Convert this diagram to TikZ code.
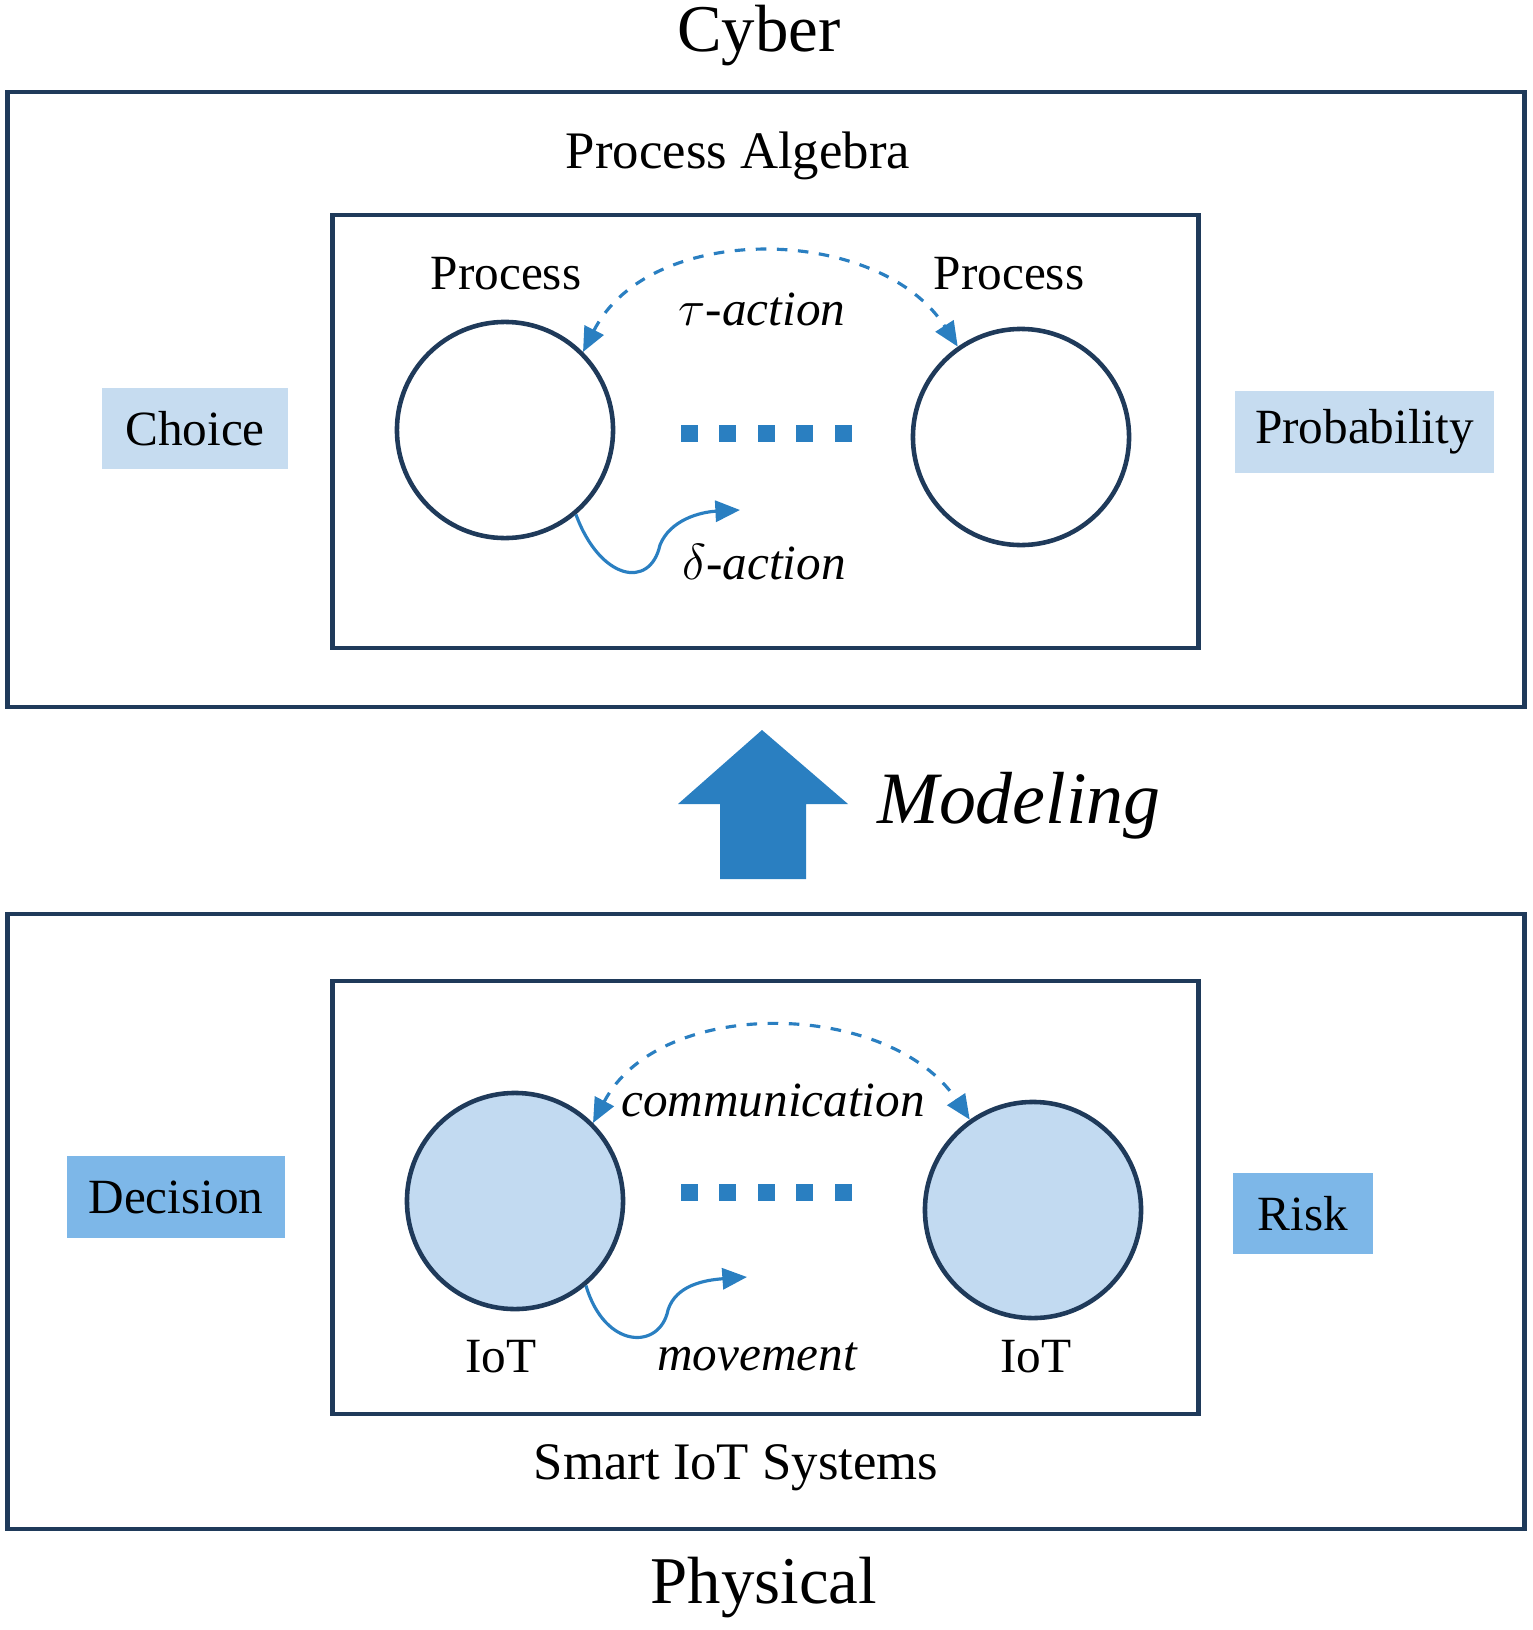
\documentclass[tikz,border=0pt]{standalone}
\usepackage{fontspec}
\setmainfont{Liberation Serif}
\usetikzlibrary{arrows.meta}
\definecolor{navy}{HTML}{1F3A5A}
\definecolor{lb}{HTML}{C6DCF0}
\definecolor{mb}{HTML}{7DB7E8}
\definecolor{ab}{HTML}{2A7FC1}
\definecolor{cb}{HTML}{C2DAF1}
\begin{document}
\begin{tikzpicture}[x=0.01cm,y=-0.01cm,
 box/.style={draw=navy,line width=1.3pt},
 circ/.style={circle,draw=navy,line width=1.3pt,minimum size=2.16cm,inner sep=0},
 tag/.style={font=\fontsize{14}{16}\selectfont,inner sep=0},
 dsh/.style={dashed,ab,line width=0.9pt},
 crv/.style={ab,line width=0.9pt,-{Triangle[length=7pt,width=6pt]}},
 sq/.style={fill=ab,minimum size=0.17cm,inner sep=0}]
\useasboundingbox (0,0) rectangle (1532,1630);
\node[font=\fontsize{19}{22}\selectfont] (cyber) at (759,36) {Cyber};
\node[box,minimum width=15.16cm,minimum height=6.15cm,inner sep=0] (outA) at (766,399.5) {};
\node[font=\fontsize{15}{18}\selectfont] (pa) at (738,156) {Process Algebra};
\node[box,minimum width=8.65cm,minimum height=4.33cm,inner sep=0] (inA) at (765.5,431.5) {};
\node[tag] (p1) at (506,274) {Process};
\node[tag] (p2) at (1009,274) {Process};
\node[circ] (c1) at (505,430) {};
\node[circ] (c2) at (1021,437) {};
\foreach \i in {0,1,2,3,4} \node[sq] (a\i) at (689+38.5*\i,433) {};
\node[tag,font=\fontsize{14}{16}\selectfont\itshape] (tau) at (762,309) {$\tau$-action};
\draw[dsh,{Triangle[length=7pt,width=6pt]}-{Triangle[length=7pt,width=6pt]}] (c1.45) .. controls (650,220) and (880,225) .. (c2.125);
\node[tag,font=\fontsize{14}{16}\selectfont\itshape] (del) at (764,562) {$\delta$-action};
\coordinate (d1) at (740,510);
\draw[crv] (c1.-50) .. controls (600,580) and (650,590) .. (660,545) .. controls (670,520) and (700,512) .. (d1);
\node[tag,fill=lb,minimum width=1.86cm,minimum height=0.81cm] (choice) at (195,428.5) {Choice};
\node[tag,fill=lb,minimum width=2.59cm,minimum height=0.82cm] (prob) at (1364.5,432) {Probability};
\coordinate (ar) at (762,730);
\fill[ab] (ar) -- (848,804) -- (806,804) -- (806,879) -- (720,879) -- (720,804) -- (678,804) -- cycle;
\node[font=\fontsize{21}{24}\selectfont\itshape] (mod) at (1019,806) {Modeling};
\node[box,minimum width=15.16cm,minimum height=6.15cm,inner sep=0] (outB) at (766,1221.5) {};
\node[box,minimum width=8.65cm,minimum height=4.33cm,inner sep=0] (inB) at (765.5,1197.5) {};
\node[circ,fill=cb] (c3) at (515,1201) {};
\node[circ,fill=cb] (c4) at (1033,1210) {};
\foreach \i in {0,1,2,3,4} \node[sq] (b\i) at (689+38.5*\i,1192) {};
\node[tag,font=\fontsize{14}{16}\selectfont\itshape] (com) at (773,1100) {communication};
\draw[dsh,{Triangle[length=7pt,width=6pt]}-{Triangle[length=7pt,width=6pt]}] (c3.45) .. controls (660,995) and (890,1000) .. (c4.125);
\node[tag,font=\fontsize{14}{16}\selectfont\itshape] (mov) at (757,1357) {movement};
\coordinate (d2) at (747,1277);
\draw[crv] (c3.-50) .. controls (605,1350) and (660,1350) .. (668,1310) .. controls (676,1285) and (705,1280) .. (d2);
\node[tag] (iot1) at (501,1357) {IoT};
\node[tag] (iot2) at (1036,1357) {IoT};
\node[tag,fill=mb,minimum width=2.18cm,minimum height=0.82cm] (dec) at (176,1197) {Decision};
\node[tag,fill=mb,minimum width=1.40cm,minimum height=0.81cm] (risk) at (1303,1213.5) {Risk};
\node[font=\fontsize{15}{18}\selectfont] (sis) at (736,1468) {Smart IoT Systems};
\node[font=\fontsize{19}{22}\selectfont] (phys) at (764,1588) {Physical};
\end{tikzpicture}
\end{document}
